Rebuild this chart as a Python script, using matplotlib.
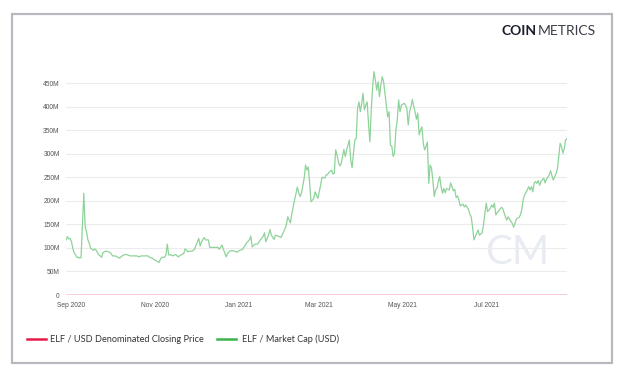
import datetime as dt
import matplotlib
matplotlib.use("Agg")
import matplotlib.pyplot as plt
import matplotlib.dates as mdates
from matplotlib.lines import Line2D
from matplotlib.patches import Rectangle
from matplotlib.ticker import FuncFormatter

# ---- data ----
start_date = dt.date(2020, 9, 1)
day_offset = [-4, -3, -2, -1, 0, 1, 2, 3, 4, 5, 6, 7, 9, 10, 11, 12, 13, 14, 16, 17, 18, 20, 21, 22, 23, 25, 27, 29, 30, 32,
              34, 35, 37, 39, 40, 43, 45, 48, 49, 51, 54, 56,
              57, 59, 61, 63, 64, 65, 66, 68, 69, 70, 71, 73, 74, 76, 78, 80, 82, 83, 85, 86, 88, 90, 91, 93, 94, 95, 97, 98,
              100, 101, 103, 105, 107, 108, 110, 111, 113, 114, 116, 118, 121,
              123, 125, 127, 128, 130, 131, 132, 134, 136, 138, 140, 141, 142, 144, 145, 146, 148, 149, 151, 153, 155, 156, 157,
              158, 160, 161, 163, 165, 166, 167, 168, 170, 171, 172, 173, 174, 175, 177, 178, 180, 181,
              182, 183, 185, 186, 187, 188, 190, 191, 192, 193, 194, 195, 196, 197, 199, 200, 201, 202, 203, 204, 205, 206, 207,
              208, 209, 210, 211, 212, 213, 214, 215, 216, 217, 218, 219, 220, 221, 222, 223, 224, 225, 226, 227, 228, 229, 230,
              231, 232, 233, 234, 235, 236, 237, 238, 239, 240, 241, 243, 244, 245, 246, 247, 248, 249, 250, 251, 252, 253, 254,
              255, 256, 257, 258, 259, 260, 261, 262, 263, 264, 265, 266, 267, 268, 269, 270, 271, 272, 273, 274, 276, 277, 279,
              280, 281, 282, 283, 284, 286, 287, 288, 290, 291, 292, 293, 294, 296, 297, 298, 300, 301, 302, 303, 304, 306, 307,
              308, 309, 310, 311, 313, 314, 315, 316, 317, 318, 319, 320, 322, 323, 324, 325, 327, 328, 329, 330, 331, 333, 334,
              335, 336, 337, 338, 339, 340, 341, 342, 343, 345, 346, 347, 348, 349, 350, 351, 352, 353, 354, 355, 356, 357, 358,
              359, 360, 361, 362]
market_cap_musd = [117, 124, 119, 120, 113, 99, 89, 85, 80, 80, 78, 80, 216, 145, 134, 117, 110, 99, 95, 98, 95, 85, 83, 80, 90, 93, 92, 88, 83, 83,
                   80, 78, 83, 86, 86, 83, 83, 83, 81, 83, 83, 83,
                   80, 78, 74, 71, 69, 76, 80, 80, 85, 108, 85, 85, 83, 86, 81, 85, 88, 98, 92, 93, 93, 97, 106, 120, 104, 113, 122, 117,
                   117, 101, 101, 101, 101, 97, 106, 97, 81, 88, 94, 94, 91,
                   95, 97, 106, 111, 117, 125, 102, 108, 108, 117, 124, 132, 113, 127, 139, 127, 118, 127, 125, 122, 134, 141, 149,
                   166, 153, 173, 202, 229, 217, 209, 216, 248, 276, 265, 272, 237, 198, 205, 219, 205, 219,
                   233, 250, 248, 255, 255, 260, 265, 257, 258, 308, 297, 283, 274, 278, 309, 294, 308, 318, 329, 286, 270, 301, 329,
                   332, 396, 410, 389, 407, 428, 393, 403, 410, 364, 325, 393, 442, 474, 456, 435, 453, 421, 446, 463, 453, 428, 403,
                   378, 389, 318, 316, 294, 301, 350, 371, 414, 389, 403, 407, 403, 396, 361, 389, 400, 415, 401, 389, 373, 386, 340,
                   350, 357, 322, 308, 315, 325, 237, 276, 269, 244, 209, 223, 226, 241, 251, 230, 216, 226, 217, 226, 223, 238, 221,
                   224, 207, 210, 202, 189, 193, 187, 191, 182, 172, 166, 145, 117, 131, 138, 127, 132, 149, 173, 195, 177, 184, 191,
                   186, 195, 170, 175, 182, 186, 184, 175, 166, 159, 166, 161, 152, 144, 152, 161, 165, 170, 182, 203, 212, 223, 230,
                   223, 230, 219, 237, 241, 237, 243, 233, 241, 248, 238, 246, 250, 255, 264, 253, 244, 251, 258, 267, 294, 322, 315,
                   301, 311, 329, 332]
# closing price in USD (indistinguishable from 0 on this scale)
price_day_offset = [-4, 362]
price_usd = [0.21, 0.61]

y_ticks = [0, 50, 100, 150, 200, 250, 300, 350, 400, 450]
series_names = ["ELF / USD Denominated Closing Price", "ELF / Market Cap (USD)"]

# ---- figure ----
W, H = 624, 370
fig = plt.figure(figsize=(W / 100, H / 100), dpi=100)
fig.patch.set_facecolor("white")


def fx(px):
    return px / W


def fy(py):
    return 1 - py / H


# outer frame
fig.patches.append(Rectangle((fx(12), fy(363)), fx(612) - fx(12), fy(14) - fy(363),
                             transform=fig.transFigure, fill=False,
                             edgecolor="#b8b8c0", linewidth=1.6, zorder=0))

ymax = 480
ax_left, ax_right, ax_bottom = 66, 567, 295
px_per_unit = (295 - 83) / 450
ax_top = ax_bottom - ymax * px_per_unit
ax = fig.add_axes([fx(ax_left), fy(ax_bottom), fx(ax_right) - fx(ax_left), fy(ax_top) - fy(ax_bottom)])
ax.set_facecolor("none")

dates = [start_date + dt.timedelta(days=d) for d in day_offset]
pdates = [start_date + dt.timedelta(days=d) for d in price_day_offset]

# watermark
ax.text(0.9, 0.19, "CM", transform=ax.transAxes, fontsize=29, color="#e8ebf2",
        family="Lato", fontweight="normal", ha="center", va="center", zorder=0)

ax.plot(pdates, [p / 1e6 for p in price_usd], color="#f7c3cf", linewidth=1.2, zorder=3)
ax.plot(dates, market_cap_musd, color="#8ed399", linewidth=0.9, zorder=4)

ax.set_xlim(dates[0], dates[-1])
ax.set_ylim(0, ymax)
ax.set_yticks(y_ticks)
ax.yaxis.set_major_formatter(FuncFormatter(lambda v, p: "0" if v == 0 else f"{int(v)}M"))
ax.xaxis.set_major_locator(mdates.MonthLocator(bymonth=[1, 3, 5, 7, 9, 11]))
ax.xaxis.set_major_formatter(mdates.DateFormatter("%b %Y"))

ax.grid(axis="y", color="#ececec", linewidth=0.8, zorder=1)
ax.set_axisbelow(True)
for s in ax.spines.values():
    s.set_visible(False)
ax.tick_params(axis="both", length=0, labelsize=4.8, labelcolor="#555555")
ax.tick_params(axis="y", pad=4.5)
ax.tick_params(axis="x", pad=5)
for lab in ax.get_xticklabels() + ax.get_yticklabels():
    lab.set_family("Liberation Sans")

# legend (manual)
ly = fy(339)
fig.add_artist(Line2D([fx(27), fx(46)], [ly, ly], color="#e8194b", linewidth=1.8, transform=fig.transFigure))
fig.text(fx(50), ly, series_names[0], fontsize=6.6, family="Lato", color="#333333", va="center", ha="left")
fig.add_artist(Line2D([fx(217), fx(236)], [ly, ly], color="#3cb44b", linewidth=1.8, transform=fig.transFigure))
fig.text(fx(242), ly, series_names[1], fontsize=6.6, family="Lato", color="#333333", va="center", ha="left")

# logo
t1 = fig.text(fx(502), fy(31), "COIN", fontsize=10, family="Lato", fontweight="bold",
              color="#1b1d2e", va="center", ha="left")
fig.canvas.draw()
bb = t1.get_window_extent(renderer=fig.canvas.get_renderer())
fig.text(bb.x1 / (fig.dpi * fig.get_figwidth()) + 0.001, fy(31), "METRICS", fontsize=10, family="Lato",
         fontweight="normal", color="#3a3c48", va="center", ha="left")

fig.savefig("out.png", dpi=100, facecolor="white")
